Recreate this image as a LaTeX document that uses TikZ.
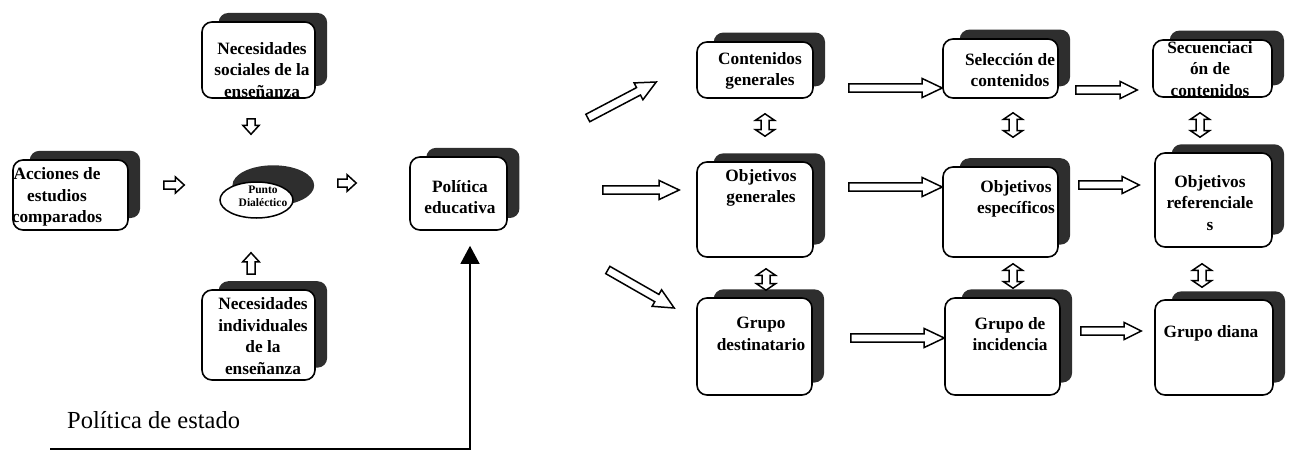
\documentclass[tikz,border=0pt]{standalone}
\usepackage{fontspec}
\setmainfont{Liberation Serif}
\usetikzlibrary{calc,shadows,shapes.geometric,arrows.meta}

\tikzset{
  % rounded card with a dark offset shadow behind it
  card/.style={draw, line width=1.6pt, rounded corners=10pt, fill=white, inner sep=0pt,
    general shadow={fill=black!82, shadow xshift=15pt, shadow yshift=11pt, shadow scale=0.96}},
  oval/.style={ellipse, draw, line width=1.5pt, fill=white, inner sep=0pt,
    general shadow={fill=black!82, shadow xshift=15pt, shadow yshift=13pt, shadow scale=1.12}},
  cardtext/.style={font=\fontsize{17.3}{21.5}\selectfont\bfseries, align=center, inner sep=0pt},
  ovaltext/.style={font=\fontsize{11.5}{13}\selectfont\bfseries, align=center, inner sep=0pt},
  % hollow block arrow: shaft half-width, head half-width, head length
  blk/.style n args={3}{draw, line width=1.5pt, fill=white, line join=miter,
    to path={
      ($(\tikztostart)!#1!90:(\tikztotarget)$)
      -- ($($(\tikztotarget)!#3!(\tikztostart)$)!#1!90:(\tikztotarget)$)
      -- ($($(\tikztotarget)!#3!(\tikztostart)$)!#2!90:(\tikztotarget)$)
      -- (\tikztotarget)
      -- ($($(\tikztotarget)!#3!(\tikztostart)$)!#2!-90:(\tikztotarget)$)
      -- ($($(\tikztotarget)!#3!(\tikztostart)$)!#1!-90:(\tikztotarget)$)
      -- ($(\tikztostart)!#1!-90:(\tikztotarget)$)
      -- cycle}},
  % hollow double-headed block arrow
  dblk/.style n args={3}{draw, line width=1.5pt, fill=white, line join=miter,
    to path={
      (\tikztostart)
      -- ($($(\tikztostart)!#3!(\tikztotarget)$)!#2!90:(\tikztotarget)$)
      -- ($($(\tikztostart)!#3!(\tikztotarget)$)!#1!90:(\tikztotarget)$)
      -- ($($(\tikztotarget)!#3!(\tikztostart)$)!#1!90:(\tikztotarget)$)
      -- ($($(\tikztotarget)!#3!(\tikztostart)$)!#2!90:(\tikztotarget)$)
      -- (\tikztotarget)
      -- ($($(\tikztotarget)!#3!(\tikztostart)$)!#2!-90:(\tikztotarget)$)
      -- ($($(\tikztotarget)!#3!(\tikztostart)$)!#1!-90:(\tikztotarget)$)
      -- ($($(\tikztostart)!#3!(\tikztotarget)$)!#1!-90:(\tikztotarget)$)
      -- ($($(\tikztostart)!#3!(\tikztotarget)$)!#2!-90:(\tikztotarget)$)
      -- cycle}},
  smallarrow/.style={blk={4pt}{8.2pt}{9pt}},
  bigarrow/.style={blk={4.2pt}{9.5pt}{20pt}},
  midarrow/.style={blk={4.2pt}{8.5pt}{17pt}},
  updown/.style={dblk={4pt}{9.5pt}{6.5pt}},
  stateline/.style={line width=1.3pt, -{Triangle[length=18pt,width=19pt]}}
}

\begin{document}
\begin{tikzpicture}[x=1pt, y=-1pt]
\useasboundingbox (0,0) rectangle (1293,450);

% ---- left block: needs, comparative studies and the dialectic point
\node[card, minimum width=113pt, minimum height=76pt] (nsoc) at (258.5,60) {};
\node[card, minimum width=115pt, minimum height=70pt] (acc) at (70.5,195) {};
\node[card, minimum width=113pt, minimum height=90pt] (nind) at (258.5,335) {};
\node[oval, minimum width=73pt, minimum height=36pt] (punto) at (256.5,200) {};
\node[card, minimum width=97pt, minimum height=73pt] (poled) at (458.5,193.5) {};

% ---- right block: contents, objectives and groups
\node[card, minimum width=116pt, minimum height=56pt] (cgen) at (755,70) {};
\node[card, minimum width=116pt, minimum height=95pt] (ogen) at (755,209.5) {};
\node[card, minimum width=115pt, minimum height=97pt] (gdest) at (754.5,346.5) {};
\node[card, minimum width=115pt, minimum height=59pt] (selc) at (1000.5,68.5) {};
\node[card, minimum width=115pt, minimum height=90pt] (oesp) at (1000.5,212) {};
\node[card, minimum width=115pt, minimum height=97pt] (ginc) at (1002.5,346.5) {};
\node[card, minimum width=119pt, minimum height=57pt] (secu) at (1212.5,68.5) {};
\node[card, minimum width=117pt, minimum height=94pt] (oref) at (1213.5,200) {};
\node[card, minimum width=118pt, minimum height=95pt] (gdia) at (1214,347.5) {};

% ---- texts of the cards
\node[cardtext] (nsoc-t) at (262,70) {Necesidades\\sociales de la\\enseñanza};
\node[cardtext] (acc-t) at (57,197) {Acciones de\\estudios\\comparados};
\node[cardtext] (nind-t) at (263,336) {Necesidades\\individuales\\de la\\enseñanza};
\node[ovaltext] (punto-t) at (263,196.5) {Punto\\Dialéctico};
\node[cardtext] (poled-t) at (460,197) {Política\\educativa};
\node[cardtext] (cgen-t) at (760,71) {Contenidos\\generales};
\node[cardtext] (ogen-t) at (761,188) {Objetivos\\generales};
\node[cardtext] (gdest-t) at (761,334) {Grupo\\destinatario};
\node[cardtext] (selc-t) at (1010,70) {Selección de\\contenidos};
\node[cardtext] (oesp-t) at (1016,199) {Objetivos\\específicos};
\node[cardtext] (ginc-t) at (1010,334) {Grupo de\\incidencia};
\node[cardtext] (secu-t) at (1210,69) {Secuenciaci\\ón de\\contenidos};
\node[cardtext] (oref-t) at (1210,203) {Objetivos\\referenciale\\s};
\node[cardtext] (gdia-t) at (1211,333) {Grupo diana};

% ---- small arrows into the dialectic point and on to policy
\draw[smallarrow] ($(acc.east)+(35,-10)$) to ($(punto.west)+(-35,-15)$);
\draw[smallarrow] ($(nsoc.south)+(-7.5,20)$) to ($(punto.north)+(-5.5,-47)$);
\draw[smallarrow] ($(nind.north)+(-7.5,-15)$) to ($(punto.south)+(-5.5,34)$);
\draw[smallarrow] ($(punto.east)+(44,-17)$) to ($(poled.west)+(-53,-10.5)$);

% ---- fan out from the educational policy
\draw[bigarrow] ($(poled.east)+(80,-75.5)$) to ($(cgen.west)+(-40,12)$);
\draw[bigarrow] ($(poled.east)+(95,-3.5)$) to ($(ogen.west)+(-17,-19.5)$);
\draw[bigarrow] ($(poled.east)+(100,76.5)$) to ($(gdest.west)+(-22,-38.5)$);

% ---- horizontal chains
\draw[bigarrow] ($(cgen.east)+(35,18)$) to ($(selc.west)+(0,19.5)$);
\draw[bigarrow] ($(ogen.east)+(35,-22.5)$) to ($(oesp.west)+(0,-25)$);
\draw[bigarrow] ($(gdest.east)+(38,-8.5)$) to ($(ginc.west)+(0,-8.5)$);
\draw[midarrow] ($(selc.east)+(17,21.5)$) to ($(secu.west)+(-15,21.5)$);
\draw[midarrow] ($(oesp.east)+(20,-27)$) to ($(oref.west)+(-15,-15)$);
\draw[midarrow] ($(ginc.east)+(20,-15.5)$) to ($(gdia.west)+(-13,-16.5)$);

% ---- vertical two-way links
\draw[updown] ($(cgen.south)+(10,15)$) to ($(ogen.north)+(10,-25)$);
\draw[updown] ($(ogen.south)+(11,11)$) to ($(gdest.north)+(11.5,-7)$);
\draw[updown] ($(selc.south)+(12.5,14)$) to ($(oesp.north)+(12.5,-29)$);
\draw[updown] ($(oesp.south)+(12.5,6)$) to ($(ginc.north)+(10.5,-9)$);
\draw[updown] ($(secu.south)+(-12.5,15)$) to ($(oref.north)+(-13.5,-15)$);
\draw[updown] ($(oref.south)+(-11.5,16)$) to ($(gdia.north)+(-12,-12)$);

% ---- state policy feeding the educational policy
\node[anchor=base west, inner sep=0pt, font=\fontsize{24.5}{28}\selectfont] (pest) at (67,428) {Política de estado};
\coordinate (pstart) at (50,449);
\draw[stateline] (pstart) -| ($(poled.south)+(11.5,15)$);
\end{tikzpicture}
\end{document}
